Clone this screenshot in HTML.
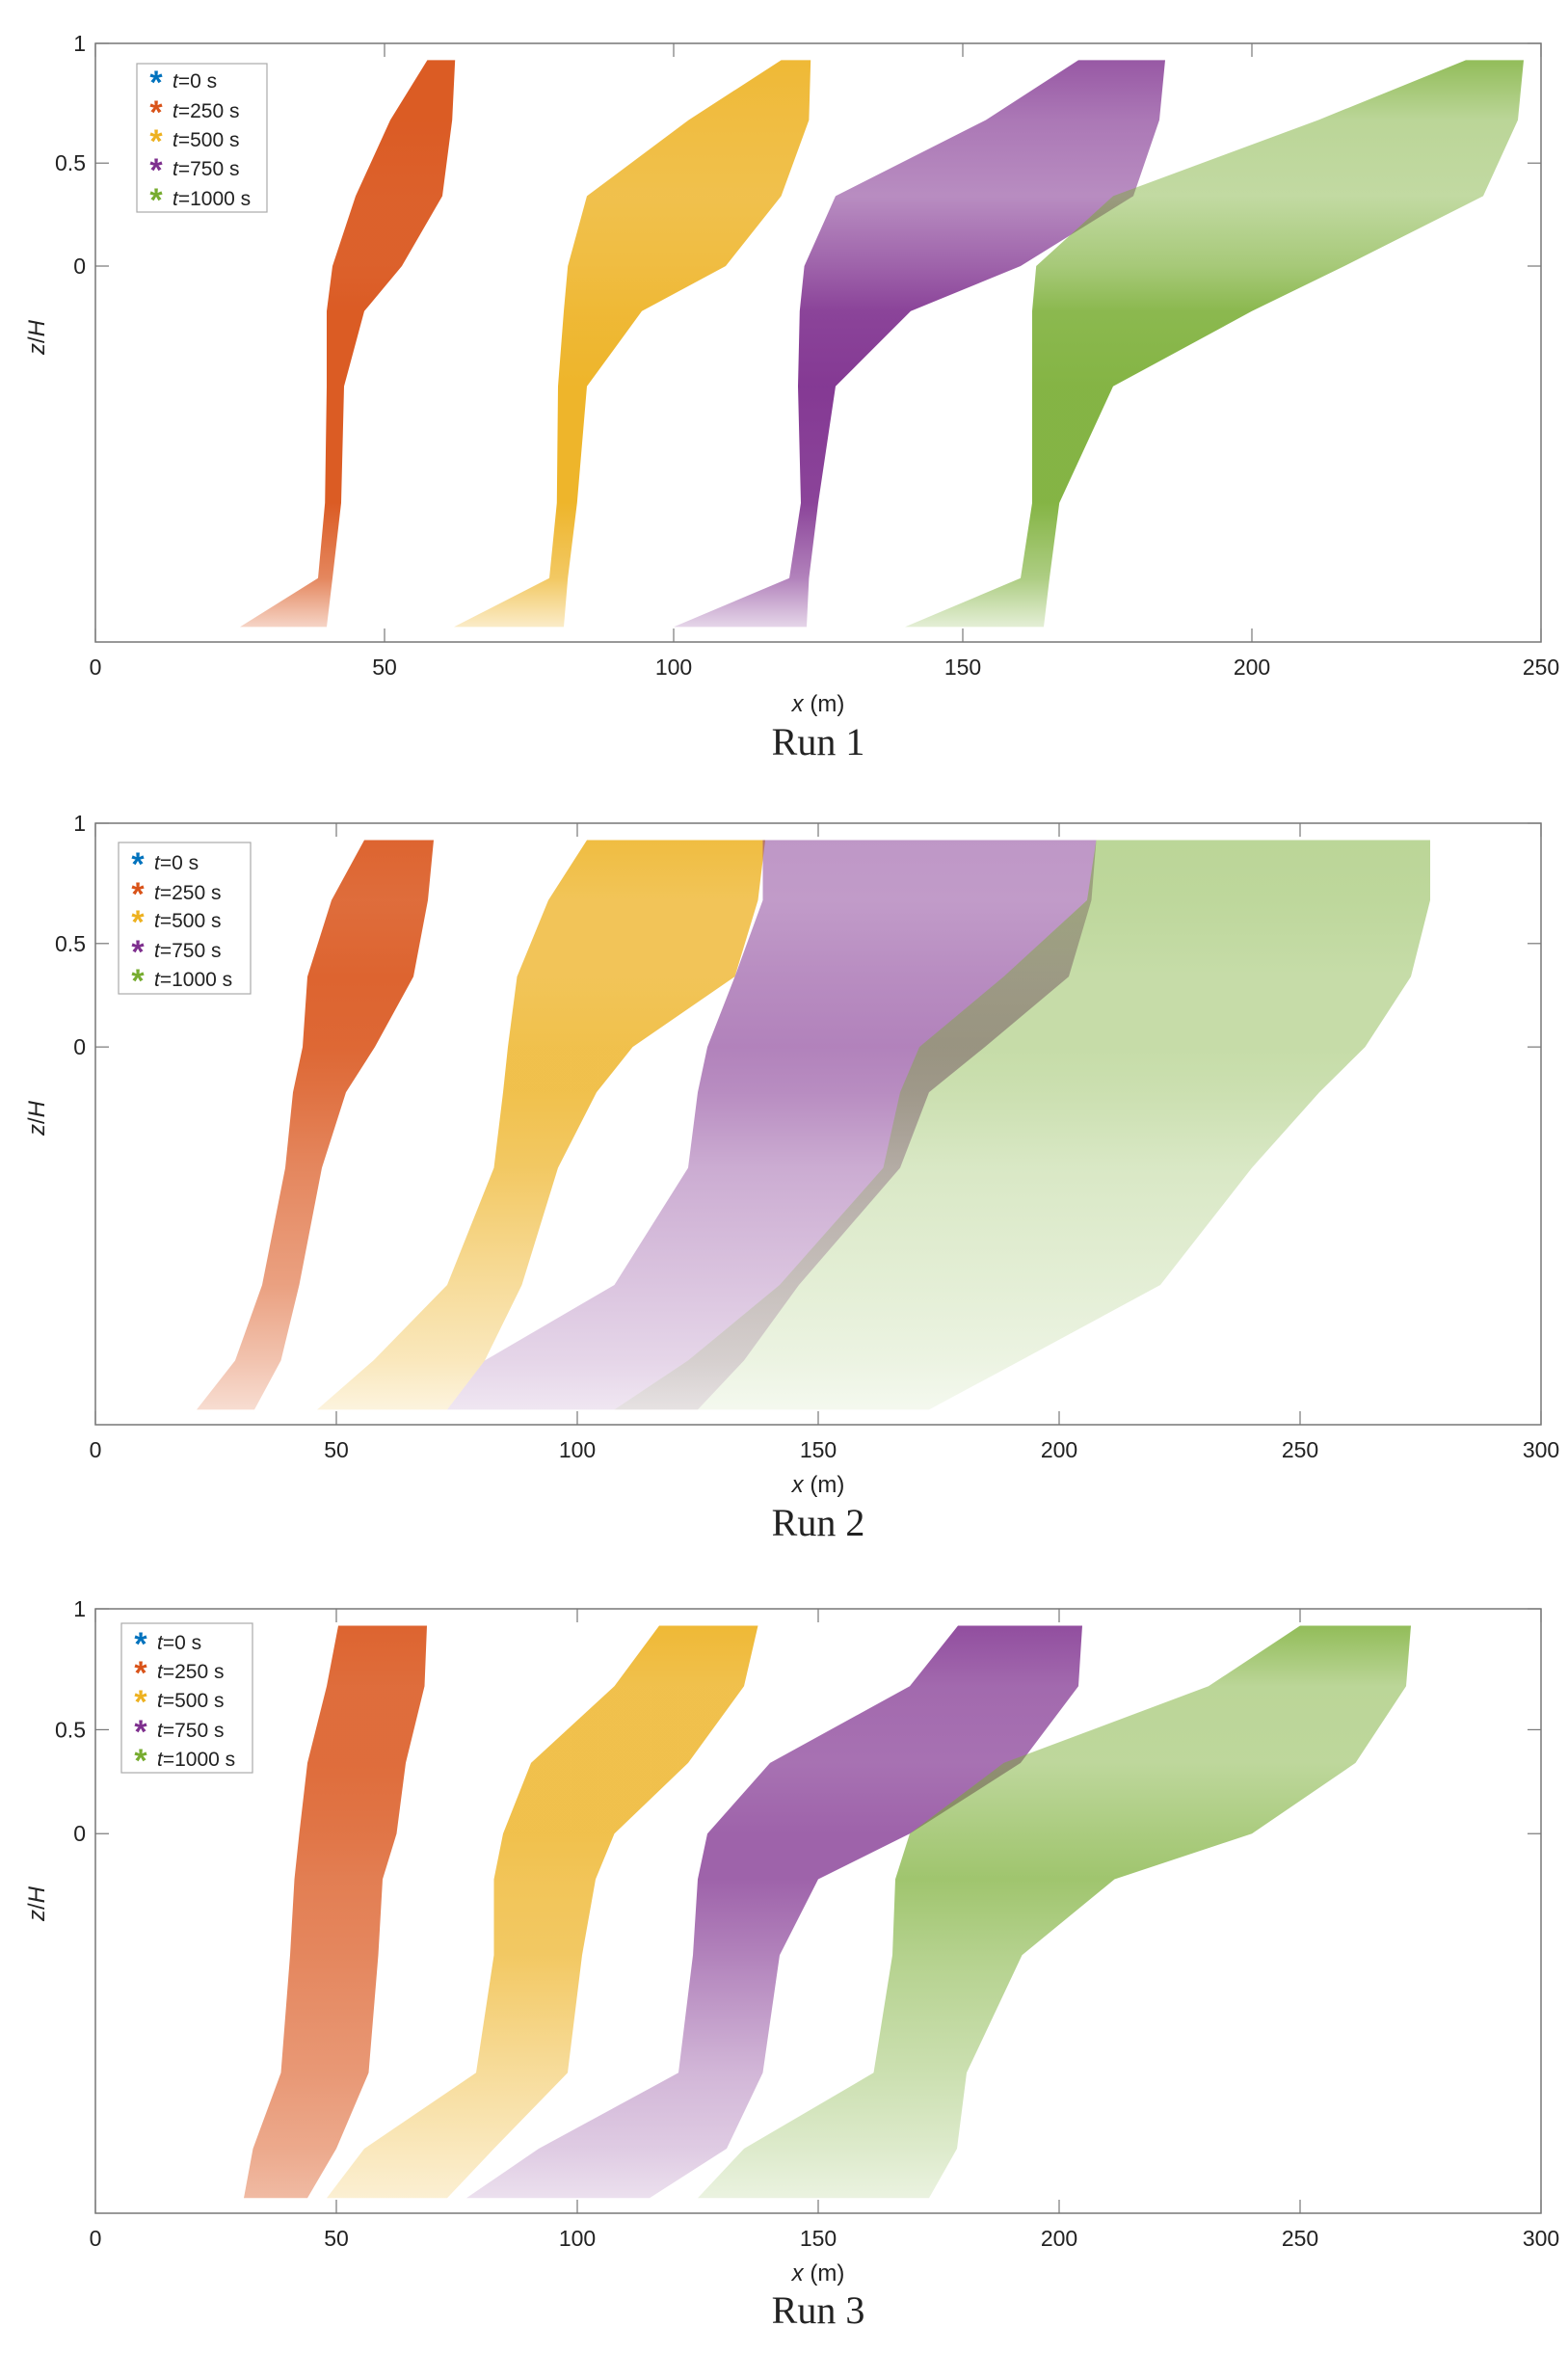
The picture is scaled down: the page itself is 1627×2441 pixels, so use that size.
<!DOCTYPE html>
<html><head><meta charset="utf-8"><style>
html,body{margin:0;padding:0;background:#fff;}
svg{display:block;}
text{font-family:"Liberation Sans",sans-serif;fill:#222;}
</style></head><body>
<svg id="fig" width="1627" height="2441" viewBox="0 0 1627 2441" xmlns="http://www.w3.org/2000/svg"><defs id="defs"></defs></svg>
<script>
// z levels (z/H) shared by every band
const zLevels = [0.93, 0.68, 0.34, 0, -0.12, -0.32, -0.63, -0.83, -0.96];
const seriesNames = ["t=250 s","t=500 s","t=750 s","t=1000 s"];
const legendLabels = ["0 s","250 s","500 s","750 s","1000 s"];
const yTickLabels = ["1","0.5","0"];
const yTickValues = [1,0.5,0];
const xTicksRun1 = [0,50,100,150,200,250];
const xTicksRun23 = [0,50,100,150,200,250,300];

// Run 1 band edges (x in m) per z level
const r1Left = [[57.4,51,45,41,40,40,39.7,38.5,25],[118.6,102.6,85,81.7,81,80,79.8,78.5,62],[170,154,128,122.6,121.8,121.5,122,120,100],[237,211.5,176,162.7,162,162,162,160,140]];
const r1Right = [[62.2,61.7,60,53,46.5,43,42.5,41,40],[123.7,123.4,118.6,109,94.5,85,83.3,81.7,81],[185,184,179.5,160,141,128,125,123.4,123],[247,246,240,216,200,176,166.7,165,164]];
const r1Dens = [[0.95,0.95,0.92,0.92,0.95,0.95,0.95,0.7,0.25],[0.9,0.85,0.8,0.85,0.9,0.95,0.95,0.7,0.25],[0.8,0.65,0.55,0.75,0.9,0.95,0.9,0.6,0.2],[0.8,0.5,0.45,0.65,0.85,0.9,0.9,0.6,0.2]];

// Run 2
const r2Left = [[55.8,49,44,43,41,39.4,34.6,29,21],[102,94,87.5,85.6,84.6,82.7,73,57.7,46],[138.5,138.5,132.7,127,125,123,107.7,80.8,73],[207.7,205.8,188.5,171,167,163.5,142,123,107.7]];
const r2Right = [[70.2,69,66,58,52,47,42.3,38.5,33],[139,137.5,132.7,111.5,104,96,88.5,80.8,73],[207.7,206.7,202,184.6,173,167,146,134.6,125],[277,277,273,263.5,254,240,221,192,173]];
const r2Dens = [[0.9,0.85,0.9,0.88,0.82,0.7,0.55,0.35,0.2],[0.85,0.75,0.75,0.8,0.8,0.7,0.45,0.3,0.15],[0.5,0.48,0.55,0.6,0.55,0.4,0.28,0.2,0.12],[0.5,0.48,0.42,0.42,0.38,0.28,0.2,0.14,0.08]];

// Run 3
const r3Left = [[50.4,48,44,42.3,41.3,40.4,38.5,32.7,30.8],[117,107.7,90.4,84.6,82.7,82.7,79,55.8,48],[179,169,140,127,125,124,121,92,77],[250,231,188.5,169,166,165.4,161.5,134.6,125]];
const r3Right = [[68.8,68.3,64.4,62.5,59.6,58.7,56.7,50,44],[137.5,134.6,123,107.7,103.8,101,98,82.7,73],[204.8,204,192,169,150,142,138.5,131,115],[273,272,261.5,240,211.5,192.3,180.8,178.8,173]];
const r3Dens = [[0.9,0.85,0.85,0.8,0.75,0.7,0.6,0.5,0.4],[0.9,0.8,0.8,0.8,0.75,0.7,0.45,0.3,0.2],[0.85,0.72,0.68,0.75,0.75,0.6,0.35,0.25,0.15],[0.8,0.5,0.48,0.62,0.7,0.55,0.38,0.25,0.15]];

const colors = ["#D95319","#EDB120","#7E2F8E","#77AC30"];
const legendColors = ["#0072BD","#D95319","#EDB120","#7E2F8E","#77AC30"];

const NS = "http://www.w3.org/2000/svg";
const svg = document.getElementById('fig');
const defs = document.getElementById('defs');
function mk(tag, attrs, parent){ const e=document.createElementNS(NS,tag); for(const k in attrs) e.setAttribute(k,attrs[k]); (parent||svg).appendChild(e); return e; }

const runs = [
  {name:"run-1", title:"Run 1", left:99, right:1599, top:45, bottom:666, xmax:250, ticks:xTicksRun1, L:r1Left, R:r1Right, D:r1Dens,
   leg:{x:142,y:66,w:135,h:154,ys:[83,114,144,174,205]}, tickY:692, xlabY:730, titleY:770, zlabY:350},
  {name:"run-2", title:"Run 2", left:99, right:1599, top:854, bottom:1478, xmax:300, ticks:xTicksRun23, L:r2Left, R:r2Right, D:r2Dens,
   leg:{x:123,y:874,w:137,h:157,ys:[894,925,954,985,1015]}, tickY:1504, xlabY:1540, titleY:1580, zlabY:1160},
  {name:"run-3", title:"Run 3", left:99, right:1599, top:1669, bottom:2296, xmax:300, ticks:xTicksRun23, L:r3Left, R:r3Right, D:r3Dens,
   leg:{x:126,y:1684,w:136,h:155,ys:[1703,1733,1763,1794,1824]}, tickY:2322, xlabY:2358, titleY:2397, zlabY:1975}
];

runs.forEach((run,ri)=>{
  const g = mk('g',{});
  
  
  const H = run.bottom-run.top;
  const xs = v => run.left + (v/run.xmax)*(run.right-run.left);
  const ys = z => {
    let f;
    if (z>=0.5) f = (1-z)/0.5*0.2;
    else if (z>=0) f = 0.2 + (0.5-z)/0.5*0.172;
    else f = 0.372 + (-z)*0.628;
    return run.top + f*H;
  };
  const yTop = ys(zLevels[0]), yBot = ys(zLevels[zLevels.length-1]);
  for (let s=0; s<colors.length; s++){
    const gid = 'grad-'+ri+'-'+s;
    const lg = mk('linearGradient',{id:gid,gradientUnits:'userSpaceOnUse',x1:0,x2:0,y1:yTop,y2:yBot}, defs);
    zLevels.forEach((z,i)=>{
      mk('stop',{offset:((ys(z)-yTop)/(yBot-yTop)).toFixed(4),'stop-color':colors[s],'stop-opacity':run.D[s][i]}, lg);
    });
    const pts = [];
    zLevels.forEach((z,i)=>pts.push([xs(run.L[s][i]),ys(z)]));
    for (let i=zLevels.length-1;i>=0;i--) pts.push([xs(run.R[s][i]),ys(zLevels[i])]);
    const p = mk('polygon',{points:pts.map(q=>q.join(',')).join(' '), fill:'url(#'+gid+')', stroke:'none'}, g);
    
    
  }
  const box = mk('rect',{x:run.left,y:run.top,width:run.right-run.left,height:H,fill:'none',stroke:'#777','stroke-width':1.5}, g);
  
  
  run.ticks.forEach(t=>{
    const x = xs(t);
    mk('line',{x1:x,x2:x,y1:run.bottom,y2:run.bottom-14,stroke:'#777','stroke-width':1.2}, g);
    mk('line',{x1:x,x2:x,y1:run.top,y2:run.top+14,stroke:'#777','stroke-width':1.2}, g);
    const tx = mk('text',{x:x,y:run.tickY+8,'font-size':23,'text-anchor':'middle'}, g);
    tx.textContent = t;
    
    
  });
  yTickValues.forEach((v,i)=>{
    const y = ys(v);
    mk('line',{x1:run.left,x2:run.left+14,y1:y,y2:y,stroke:'#777','stroke-width':1.2}, g);
    mk('line',{x1:run.right,x2:run.right-14,y1:y,y2:y,stroke:'#777','stroke-width':1.2}, g);
    const ty = mk('text',{x:run.left-10,y:y+8,'font-size':23,'text-anchor':'end'}, g);
    ty.textContent = yTickLabels[i];
    
    
  });
  const xl = mk('text',{x:(run.left+run.right)/2,y:run.xlabY+8,'font-size':24,'text-anchor':'middle'}, g);
  xl.innerHTML = '<tspan font-style="italic">x</tspan> (m)';
  
  
  const yl = mk('text',{x:0,y:0,'font-size':24,'text-anchor':'middle',transform:'translate(46,'+run.zlabY+') rotate(-90)'}, g);
  yl.innerHTML = '<tspan font-style="italic">z</tspan>/<tspan font-style="italic">H</tspan>';
  
  
  const tt = mk('text',{x:(run.left+run.right)/2,y:run.titleY+13,'font-size':40,'text-anchor':'middle'}, g);
  tt.setAttribute('style','font-family:"Liberation Serif",serif');
  tt.textContent = run.title;
  
  
  const lgd = mk('g',{}, g);
  
  
  mk('rect',{x:run.leg.x,y:run.leg.y,width:run.leg.w,height:run.leg.h,fill:'#fff',stroke:'#aaa','stroke-width':1.2}, lgd);
  legendLabels.forEach((lab,i)=>{
    const y = run.leg.ys[i];
    const mx = run.leg.x+20;
    const star = mk('text',{x:mx,y:y+14,'font-size':34,'text-anchor':'middle','font-weight':'bold'}, lgd);
    star.setAttribute('style','fill:'+legendColors[i]);
    star.textContent = '*';
    
    
    const lt = mk('text',{x:run.leg.x+37,y:y+8,'font-size':21}, lgd);
    lt.innerHTML = '<tspan font-style="italic">t</tspan>='+lab;
    
    
  });
});
</script>
</body></html>
